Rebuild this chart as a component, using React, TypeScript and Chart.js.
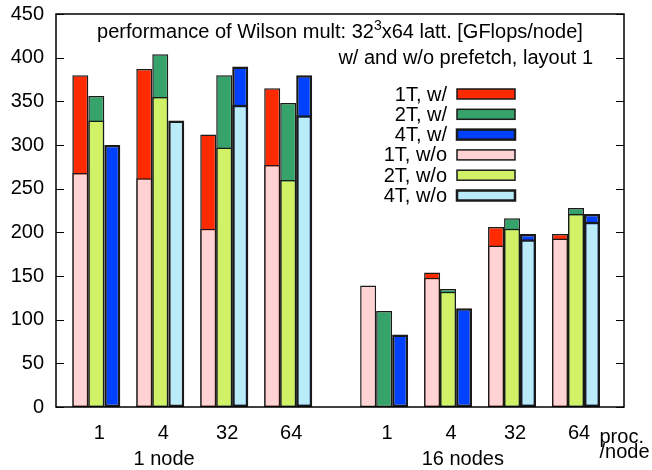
import React, { useEffect, useRef } from 'react';
import { Chart, registerables } from 'chart.js';

Chart.register(...registerables);

// ---- data ----
const nodeGroups = ['1 node', '16 nodes'];
const procsPerNode = ['1', '4', '32', '64'];

const w1T = [380, 387, 312, 365, null, 154, 206, 198];
const w2T = [356, 404, 380, 348, 110, 135, 216, 228];
const w4T = [300, null, 390, 380, 83, 113, 198, 221];
const wo1T = [268, 262, 204, 277, 139, 148, 185, 193];
const wo2T = [328, 355, 297, 260, null, 132, 204, 221];
const wo4T = [null, 328, 346, 334, null, null, 192, 212];

const seriesLabels = ['1T, w/', '2T, w/', '4T, w/', '1T, w/o', '2T, w/o', '4T, w/o'];
const yMin = 0;
const yMax = 450;
const yStep = 50;

const titleBefore = 'performance of Wilson mult: 32';
const titleSup = '3';
const titleAfter = 'x64 latt. [GFlops/node]';
const subtitle = 'w/ and w/o prefetch, layout 1';
const axisNote = ['proc.', '/node'];

// ---- layout helpers ----
const FONT = '"Liberation Sans", Arial, Helvetica, sans-serif';
const FS = 20;
const groupGap = 0.5;

const xPositions: number[] = [];
const xLabels: string[] = [];
nodeGroups.forEach((_, g) => {
  procsPerNode.forEach((p, i) => {
    xPositions.push(g * (procsPerNode.length + groupGap) + i);
    xLabels.push(p);
  });
});

const toPoints = (vals: (number | null)[]) => vals.map((v, i) => ({ x: xPositions[i], y: v }));

const colors = ['#ff2a00', '#36a36a', '#0040ff', '#ffd3d3', '#d1f266', '#b9ebf9'];
const borderW = [1.5, 1.5, 2.5, 1.5, 1.5, 2.5];
const stacks = ['t1', 't2', 't4', 't1', 't2', 't4'];
const allSeries = [w1T, w2T, w4T, wo1T, wo2T, wo4T];

const decorPlugin = {
  id: 'decor',
  afterDraw(chart: any) {
    const { ctx, chartArea: a, scales } = chart;
    const ys = scales.y;
    const xs = scales.x;
    ctx.save();
    // frame
    ctx.strokeStyle = '#000';
    ctx.lineWidth = 1.5;
    ctx.strokeRect(a.left, a.top, a.right - a.left, a.bottom - a.top);
    // inward ticks on left and right
    ctx.lineWidth = 1.2;
    for (const t of ys.ticks) {
      const py = Math.round(ys.getPixelForValue(t.value)) + 0.5;
      ctx.beginPath();
      ctx.moveTo(a.left, py);
      ctx.lineTo(a.left + 8, py);
      ctx.moveTo(a.right, py);
      ctx.lineTo(a.right - 8, py);
      ctx.stroke();
    }

    ctx.fillStyle = '#000';
    ctx.textBaseline = 'alphabetic';
    // title line 1 with superscript
    const f = `${FS}px ${FONT}`;
    const fs = `${Math.round(FS * 0.7)}px ${FONT}`;
    ctx.font = f;
    const w1 = ctx.measureText(titleBefore).width;
    const w3 = ctx.measureText(titleAfter).width;
    ctx.font = fs;
    const w2 = ctx.measureText(titleSup).width;
    const total = w1 + w2 + w3;
    const cx = (a.left + a.right) / 2;
    let tx = cx - total / 2;
    const ty = a.top + 24;
    ctx.textAlign = 'left';
    ctx.font = f;
    ctx.fillText(titleBefore, tx, ty);
    tx += w1;
    ctx.font = fs;
    ctx.fillText(titleSup, tx, ty - 8);
    tx += w2;
    ctx.font = f;
    ctx.fillText(titleAfter, tx, ty);

    // subtitle right aligned
    ctx.textAlign = 'right';
    ctx.fillText(subtitle, a.right - 31, a.top + 50);

    // legend
    const ds = chart.data.datasets;
    const textRight = 447;
    const boxL = 457;
    const boxW = 58;
    const boxH = 10;
    const row0 = 94;
    const rowH = 20.3;
    ds.forEach((d: any, i: number) => {
      const cy = row0 + i * rowH;
      ctx.textAlign = 'right';
      ctx.textBaseline = 'middle';
      ctx.font = f;
      ctx.fillText(d.label, textRight, cy + 1);
      ctx.fillStyle = d.backgroundColor;
      ctx.fillRect(boxL, cy - boxH / 2, boxW, boxH);
      ctx.strokeStyle = d.borderColor;
      ctx.lineWidth = d.borderWidth;
      ctx.strokeRect(boxL, cy - boxH / 2, boxW, boxH);
      ctx.fillStyle = '#000';
    });

    // node group labels
    ctx.textBaseline = 'alphabetic';
    ctx.textAlign = 'center';
    ctx.font = f;
    const groupCenters = [1.06, 5.73];
    nodeGroups.forEach((g, i) => {
      ctx.fillText(g, xs.getPixelForValue(groupCenters[i]), 465);
    });
    // proc./node note
    ctx.textAlign = 'left';
    ctx.fillText(axisNote[0], 599.5, 443);
    ctx.fillText(axisNote[1], 599.5, 458);
    ctx.restore();
  },
};

export default function App() {
  const ref = useRef<HTMLCanvasElement | null>(null);
  useEffect(() => {
    if (!ref.current) return;
    const chart = new Chart(ref.current, {
      type: 'bar',
      data: {
        datasets: allSeries.map((vals, i) => ({
          label: seriesLabels[i],
          data: toPoints(vals),
          backgroundColor: colors[i],
          borderColor: '#1a1a1a',
          borderWidth: borderW[i],
          borderSkipped: false,
          stack: stacks[i],
          order: i < 3 ? 1 : 0,
          categoryPercentage: 0.75,
          barPercentage: 1,
        })) as any,
      },
      options: {
        animation: false,
        responsive: false,
        devicePixelRatio: 1,
        layout: { padding: { top: 14, right: 28, left: 0, bottom: 0 } },
        plugins: { legend: { display: false }, tooltip: { enabled: false }, title: { display: false } },
        scales: {
          x: {
            type: 'linear',
            stacked: true,
            offset: false,
            min: -0.63,
            max: 8.25,
            grid: { display: false, drawTicks: false },
            border: { display: false },
            afterBuildTicks: (scale: any) => {
              scale.ticks = xPositions.map((v) => ({ value: v }));
            },
            afterFit: (scale: any) => {
              scale.height = 63;
              scale.paddingLeft = 0;
              scale.paddingRight = 0;
            },
            ticks: {
              autoSkip: false,
              maxRotation: 0,
              padding: 14,
              labelOffset: 3,
              color: '#000',
              font: { family: FONT, size: FS },
              callback: (_v: any, idx: number) => xLabels[idx],
            },
          },
          y: {
            stacked: false,
            min: yMin,
            max: yMax,
            grid: { display: false, drawTicks: false },
            border: { display: false },
            afterFit: (scale: any) => {
              scale.width = 56;
              scale.paddingTop = 0;
              scale.paddingBottom = 0;
            },
            ticks: {
              stepSize: yStep,
              padding: 12,
              color: '#000',
              font: { family: FONT, size: FS },
            },
          },
        },
      },
      plugins: [decorPlugin],
    } as any);
    return () => chart.destroy();
  }, []);
  return (
    <div style={{ position: 'absolute', left: 0, top: 0, width: 652, height: 470, background: '#fff' }}>
      <canvas ref={ref} width={652} height={470} />
    </div>
  );
}
